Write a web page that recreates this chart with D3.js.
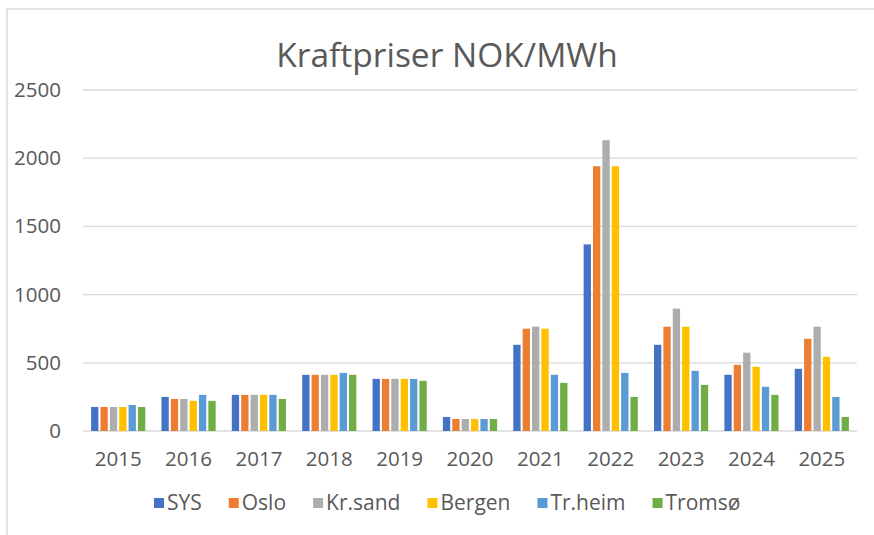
<!DOCTYPE html>
<html>
<head>
<meta charset="utf-8">
<script src="https://cdn.jsdelivr.net/npm/d3@7"></script>
<style>
  body { margin: 0; background: #fff; }
  svg text { font-family: "Open Sans", sans-serif; fill: #595959; }
</style>
</head>
<body>
<svg id="chart" width="874" height="535"></svg>
<script>
// chart data
var years = ["2015","2016","2017","2018","2019","2020","2021","2022","2023","2024","2025"]
var areas = ["SYS","Oslo","Kr.sand","Bergen","Tr.heim","Tromsø"]
var sys     = [176, 250, 265, 412, 382, 103, 632, 1368, 632, 412, 456]
var oslo    = [176, 235, 265, 412, 382,  88, 750, 1941, 765, 485, 676]
var krsand  = [176, 235, 265, 412, 382,  88, 765, 2132, 897, 574, 765]
var bergen  = [176, 221, 265, 412, 382,  88, 750, 1941, 765, 471, 544]
var trheim  = [191, 265, 265, 426, 382,  88, 412,  426, 441, 324, 250]
var tromso  = [176, 221, 235, 412, 368,  88, 353,  250, 338, 265, 103]
var yTicks  = [0, 500, 1000, 1500, 2000, 2500]
var colors  = ["#4472C4","#ED7D31","#ADADAD","#FFC000","#5B9BD5","#70AD47"]

var series = [sys, oslo, krsand, bergen, trheim, tromso]

var svg = d3.select("#chart")

// frame of the chart area (only top and left edges are visible)
svg.append("path")
    .attr("d", "M7,535 V9 H874")
    .attr("fill", "none")
    .attr("stroke", "#d9d9d9")
    .attr("stroke-width", 1.5)

var plotL = 83, plotR = 857, plotT = 90, plotB = 431

var x0 = d3.scaleBand().domain(years).range([plotL, plotR]).paddingInner(0.23).paddingOuter(0.115)
var x1 = d3.scaleBand().domain(areas).range([0, x0.bandwidth()]).paddingInner(0.22)
var y = d3.scaleLinear().domain([0, 2500]).range([plotB, plotT])

// gridlines
svg.append("g")
    .selectAll("line")
    .data(yTicks)
    .join("line")
    .attr("x1", plotL).attr("x2", plotR)
    .attr("y1", function(d) { return y(d) }).attr("y2", function(d) { return y(d) })
    .attr("stroke", "#d9d9d9")
    .attr("stroke-width", 1.3)

// y labels
var yAxis = d3.axisLeft(y).tickValues(yTicks).tickFormat(d3.format("d")).tickSize(0).tickPadding(0)
svg.append("g")
    .attr("transform", "translate(61,0)")
    .call(yAxis)
    .call(function(g) { g.select(".domain").remove() })
    .selectAll("text")
    .attr("font-size", 20.5)
    .attr("fill", "#595959")
    .style("font-family", "Open Sans, sans-serif")

// x labels
var xAxis = d3.axisBottom(x0).tickSize(0).tickPadding(0)
svg.append("g")
    .attr("transform", "translate(0,451)")
    .call(xAxis)
    .call(function(g) { g.select(".domain").remove() })
    .selectAll("text")
    .attr("font-size", 20.5)
    .attr("fill", "#595959")
    .style("font-family", "Open Sans, sans-serif")

// bars
var groups = svg.append("g")
    .selectAll("g")
    .data(years)
    .join("g")
    .attr("transform", function(d) { return "translate(" + x0(d) + ",0)" })

groups.selectAll("rect")
    .data(function(d, i) { return areas.map(function(a, j) { return {area: a, value: series[j][i], k: j} }) })
    .join("rect")
    .attr("x", function(d) { return x1(d.area) })
    .attr("width", x1.bandwidth())
    .attr("y", function(d) { return y(d.value) })
    .attr("height", function(d) { return plotB - y(d.value) })
    .attr("fill", function(d) { return colors[d.k] })

// title
svg.append("text")
    .attr("x", 447)
    .attr("y", 67)
    .attr("text-anchor", "middle")
    .attr("font-size", 33.5)
    .text("Kraftpriser NOK/MWh")

// legend
var legend = svg.append("g").attr("transform", "translate(154,503)")
var lx = 0
areas.forEach(function(a, i) {
    var item = legend.append("g").attr("transform", "translate(" + lx + ",0)")
    item.append("rect")
        .attr("x", 0).attr("y", -5)
        .attr("width", 10).attr("height", 10)
        .attr("fill", colors[i])
    var t = item.append("text")
        .attr("x", 13)
        .attr("dy", "0.35em")
        .attr("font-size", 21)
        .text(a)
    lx += 13 + t.node().getComputedTextLength() + 27
})
</script>
</body>
</html>
